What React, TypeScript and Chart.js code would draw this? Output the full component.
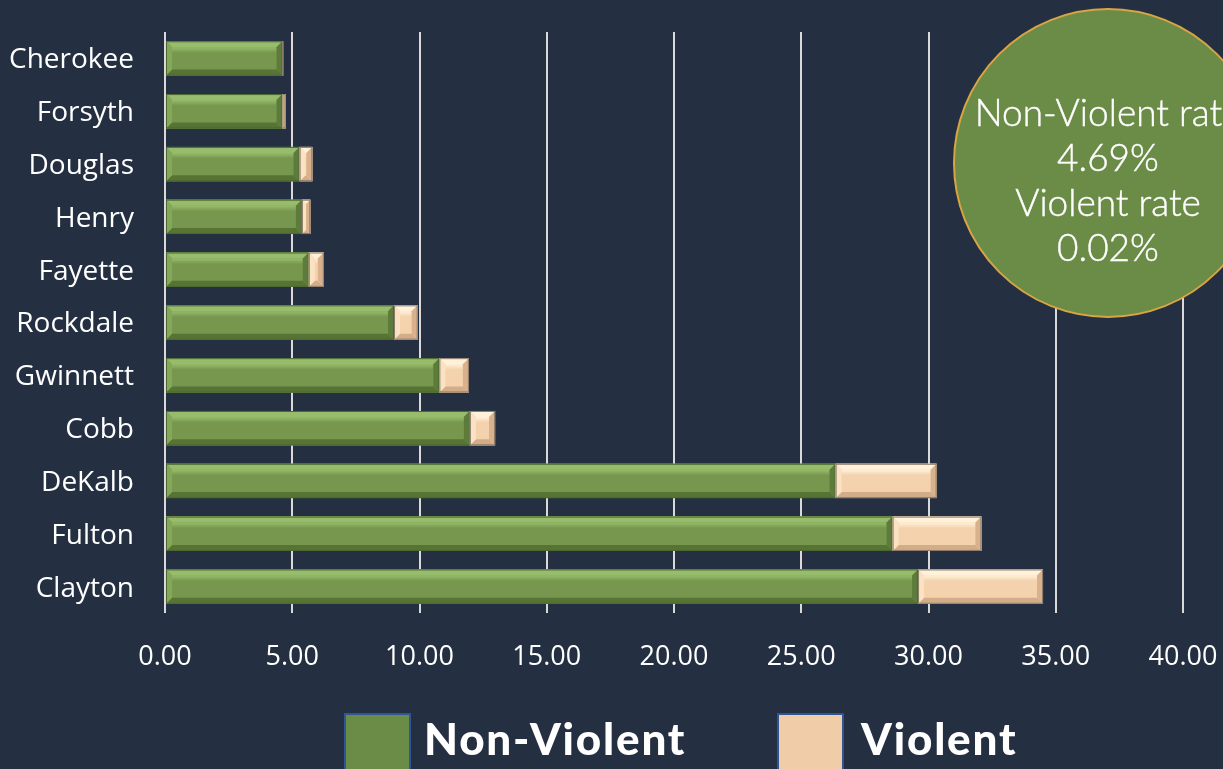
import React, { useEffect, useRef } from 'react';
import { Chart, registerables } from 'chart.js';

Chart.register(...registerables);

const categories = ['Cherokee', 'Forsyth', 'Douglas', 'Henry', 'Fayette', 'Rockdale', 'Gwinnett', 'Cobb', 'DeKalb', 'Fulton', 'Clayton'];
const nonViolent = [4.62, 4.62, 5.29, 5.38, 5.65, 9.0, 10.78, 11.98, 26.35, 28.59, 29.59];
const violent = [0.02, 0.12, 0.5, 0.33, 0.59, 0.93, 1.16, 0.99, 3.97, 3.49, 4.91];
const seriesNames = ['Non-Violent', 'Violent'];
const axisMin = 0;
const axisMax = 40;
const axisStep = 5;
const calloutLines = ['Non-Violent rate', '4.69%', 'Violent rate', '0.02%'];

const BG = '#243042';
const GREEN = '#6b8c47';
const PEACH = '#f0cda8';

const bevelStyles = [
  { face: '#76974d', top: '#97bc6b', left: '#84a75a', right: '#5d7c3b', bottom: '#577434', border: '#4c6731' },
  { face: '#f4d2ad', top: '#fff1da', left: '#fbe2c3', right: '#d9b28d', bottom: '#d3ad88', border: '#8a7a6b' },
];

const bevelPlugin = {
  id: 'bevel',
  afterDatasetsDraw(chart: any) {
    const ctx = chart.ctx;
    chart.data.datasets.forEach((_ds: any, di: number) => {
      const meta = chart.getDatasetMeta(di);
      const st = bevelStyles[di];
      meta.data.forEach((el: any) => {
        const p = el.getProps(['x', 'y', 'base', 'height'], true);
        const l = Math.min(p.x, p.base);
        const r = Math.max(p.x, p.base);
        const t = p.y - p.height / 2;
        const bt = p.y + p.height / 2;
        const w = r - l;
        const h = bt - t;
        if (w <= 0.5) return;
        const b = Math.min(6, w / 2, h / 2);
        ctx.save();
        ctx.fillStyle = st.face;
        ctx.fillRect(l, t, w, h);
        const poly = (pts: number[][], c: string) => {
          ctx.beginPath();
          ctx.moveTo(pts[0][0], pts[0][1]);
          for (let i = 1; i < pts.length; i++) ctx.lineTo(pts[i][0], pts[i][1]);
          ctx.closePath();
          ctx.fillStyle = c;
          ctx.fill();
        };
        const g = ctx.createLinearGradient(0, t + b, 0, bt - b);
        g.addColorStop(0, st.top);
        g.addColorStop(0.25, st.face);
        g.addColorStop(1, st.face);
        ctx.fillStyle = g;
        ctx.fillRect(l + b, t + b, w - 2 * b, h - 2 * b);
        poly([[l, t], [r, t], [r - b, t + b], [l + b, t + b]], st.top);
        poly([[l, bt], [r, bt], [r - b, bt - b], [l + b, bt - b]], st.bottom);
        poly([[l, t], [l + b, t + b], [l + b, bt - b], [l, bt]], st.left);
        poly([[r, t], [r - b, t + b], [r - b, bt - b], [r, bt]], st.right);
        ctx.strokeStyle = st.border;
        ctx.lineWidth = 1;
        ctx.strokeRect(l + 0.5, t + 0.5, w - 1, h - 1);
        ctx.restore();
      });
    });
  },
};

export default function App() {
  const canvasRef = useRef<HTMLCanvasElement | null>(null);

  useEffect(() => {
    const canvas = canvasRef.current;
    if (!canvas) return;
    const tickFont = { family: 'Open Sans', size: 28 };
    const chart = new Chart(canvas, {
      type: 'bar',
      data: {
        labels: categories,
        datasets: [
          { label: seriesNames[0], data: nonViolent, backgroundColor: bevelStyles[0].face, borderWidth: 0, barPercentage: 0.65, categoryPercentage: 1 },
          { label: seriesNames[1], data: violent, backgroundColor: bevelStyles[1].face, borderWidth: 0, barPercentage: 0.65, categoryPercentage: 1 },
        ],
      },
      options: {
        indexAxis: 'y',
        responsive: false,
        animation: false,
        layout: { padding: { top: 32, right: 40, left: 0, bottom: 0 } },
        plugins: { legend: { display: false }, tooltip: { enabled: false } },
        scales: {
          x: {
            stacked: true,
            min: axisMin,
            max: axisMax,
            ticks: {
              stepSize: axisStep,
              color: '#ffffff',
              font: { family: 'Open Sans', size: 27 },
              padding: 28,
              callback: (v: any) => Number(v).toFixed(2),
            },
            grid: { color: '#d9d9d9', lineWidth: 2, drawTicks: false },
            border: { display: false },
            afterFit: (s: any) => { s.height = 156; s.paddingLeft = 0; s.paddingRight = 0; },
          },
          y: {
            stacked: true,
            ticks: { color: '#ffffff', font: tickFont, padding: 31, labelOffset: 2 },
            grid: { display: false, drawTicks: false },
            border: { display: false },
            afterFit: (s: any) => { s.width = 165; s.paddingTop = 0; s.paddingBottom = 0; },
          },
        },
      },
      plugins: [bevelPlugin],
    } as any);
    return () => chart.destroy();
  }, []);

  const legendFont: React.CSSProperties = {
    position: 'absolute',
    fontFamily: 'Lato',
    fontWeight: 900,
    fontSize: 44,
    lineHeight: '44px',
    letterSpacing: '1.8px',
    color: '#ffffff',
    whiteSpace: 'nowrap',
  };

  return (
    <div style={{ position: 'fixed', left: 0, top: 0, width: 1223, height: 769, background: BG, overflow: 'hidden' }}>
      <canvas ref={canvasRef} width={1223} height={769} style={{ position: 'absolute', left: 0, top: 0, display: 'block' }} />
      <div style={{ position: 'absolute', left: 953, top: 8, width: 310, height: 310, boxSizing: 'border-box', borderRadius: '50%', background: GREEN, border: '2.5px solid #d9a444' }} />
      <div style={{ position: 'absolute', left: 908, top: 89, width: 400, textAlign: 'center', color: '#ffffff', fontFamily: 'Lato', fontWeight: 300, fontSize: 37, lineHeight: '45px', whiteSpace: 'nowrap', WebkitTextStroke: '0.4px #ffffff' }}>
        {calloutLines.map((t, i) => (<div key={i}>{t}</div>))}
      </div>
      <div style={{ position: 'absolute', left: 344, top: 713, width: 67, height: 70, boxSizing: 'border-box', background: GREEN, border: '2px solid #2f5597' }} />
      <div style={{ ...legendFont, left: 424, top: 716 }}>{seriesNames[0]}</div>
      <div style={{ position: 'absolute', left: 777, top: 713, width: 67, height: 70, boxSizing: 'border-box', background: PEACH, border: '2px solid #2f5597' }} />
      <div style={{ ...legendFont, left: 861, top: 716 }}>{seriesNames[1]}</div>
    </div>
  );
}
